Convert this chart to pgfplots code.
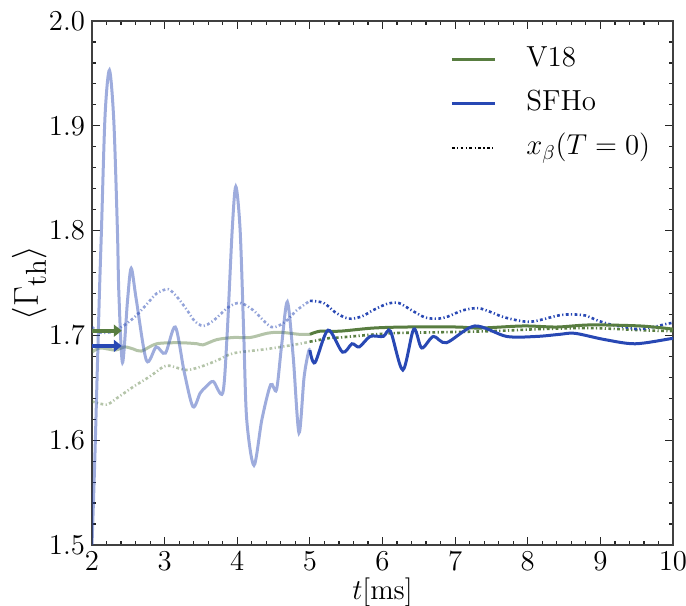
\documentclass[border=0pt]{standalone}
\usepackage{pgfplots}
\pgfplotsset{compat=1.18}
\usetikzlibrary{arrows.meta,calc}
\definecolor{cgreen}{RGB}{88,125,64}
\definecolor{cblue}{RGB}{40,72,180}
\tikzset{xbeta/.style={dash pattern=on 1.4pt off 1.2pt on 0.6pt off 1.2pt, line width=1.3pt}}
\begin{document}
\begin{tikzpicture}
\begin{axis}[
  scale only axis, width=290.5pt, height=262pt,
  xmin=2, xmax=10, ymin=1.5, ymax=2.0,
  xtick={2,3,...,10}, ytick={1.5,1.6,...,2.0},
  minor x tick num=4, minor y tick num=4,
  tick align=inside, major tick length=4pt, minor tick length=2pt,
  tick style={black!85, line width=0.6pt},
  axis line style={black!75, line width=0.8pt},
  yticklabel style={/pgf/number format/.cd, fixed, fixed zerofill, precision=1},
  every tick label/.append style={font=\fontsize{15}{17}\selectfont},
  xlabel={$t[\mathrm{ms}]$}, ylabel={$\langle\Gamma_{\rm th}\rangle$},
  xlabel style={font=\fontsize{15.5}{18}\selectfont, at={(rel axis cs:0.5,0)}, anchor=base, yshift=-27pt},
  ylabel style={font=\fontsize{19}{22}\selectfont, at={(rel axis cs:-0.108,0.5)}, anchor=center},
  clip=true,
  legend style={draw=none, fill=none, at={(0.616,0.955)}, anchor=north west,
    inner sep=0pt, font=\fontsize{14.5}{17}\selectfont, row sep=7pt,
    nodes={inner sep=0pt, text height=11pt, text depth=4pt},
    /tikz/every odd column/.append style={column sep=15pt}},
  legend cell align=left,
  legend image code/.code={\draw[#1] (0pt,0pt) -- (21.5pt,0pt);},
]
% legend entries
\addlegendimage{cgreen, line width=1.5pt}
\addlegendentry{V18}
\addlegendimage{cblue, line width=1.5pt}
\addlegendentry{SFHo}
\addlegendimage{black, xbeta}
\addlegendentry{$x_\beta(T=0)$}

% V18 x_beta dotted (light t<5)
\addplot[cgreen, opacity=0.45, xbeta, smooth, forget plot] coordinates {
(2.00,1.637)(2.20,1.634)(2.34,1.640)(2.57,1.651)(2.80,1.661)(2.98,1.670)(3.07,1.671)
(3.30,1.667)(3.49,1.670)(3.72,1.676)(3.95,1.683)(4.41,1.687)(4.86,1.692)(5.00,1.694)};
\addplot[cgreen, xbeta, smooth, forget plot] coordinates {
(5.00,1.694)(5.32,1.698)(5.41,1.698)(6.10,1.702)(6.79,1.703)(7.48,1.704)(8.17,1.706)
(8.86,1.707)(9.55,1.705)(10.0,1.704)};

% SFHo x_beta dotted
\addplot[cblue, opacity=0.5, xbeta, smooth, forget plot] coordinates {
(2.00,1.708)(2.10,1.703)(2.25,1.703)(2.45,1.710)(2.61,1.719)(2.77,1.731)(2.89,1.740)
(3.05,1.744)(3.18,1.736)(3.32,1.723)(3.41,1.714)(3.53,1.709)(3.67,1.714)(3.88,1.727)
(4.04,1.731)(4.22,1.724)(4.47,1.708)(4.66,1.713)(4.82,1.724)(5.00,1.733)};
\addplot[cblue, xbeta, smooth, forget plot] coordinates {
(5.00,1.733)(5.19,1.731)(5.35,1.722)(5.53,1.716)(5.71,1.718)(5.87,1.724)(6.06,1.730)
(6.22,1.731)(6.40,1.724)(6.59,1.717)(6.77,1.716)(6.90,1.718)(7.11,1.724)(7.32,1.726)
(7.50,1.722)(7.69,1.717)(8.03,1.713)(8.42,1.719)(8.60,1.720)(8.79,1.719)(8.97,1.714)
(9.16,1.710)(9.34,1.708)(9.52,1.706)(9.73,1.708)(9.91,1.711)(10.0,1.712)};

% V18 solid
\addplot[cgreen, opacity=0.45, line width=1.5pt, smooth, forget plot] coordinates {
(2.00,1.684)(2.11,1.688)(2.32,1.686)(2.45,1.689)(2.57,1.687)(2.68,1.685)(2.89,1.692)
(3.21,1.693)(3.45,1.692)(3.53,1.691)(3.72,1.696)(3.95,1.698)(4.18,1.698)(4.41,1.702)
(4.59,1.703)(4.86,1.701)(5.00,1.701)};
\addplot[cgreen, line width=1.5pt, smooth, forget plot] coordinates {
(5.00,1.701)(5.14,1.704)(5.41,1.704)(5.87,1.707)(6.33,1.708)(7.02,1.708)(7.34,1.707)
(7.94,1.709)(8.40,1.708)(8.86,1.710)(9.55,1.709)(10.0,1.706)};

% SFHo solid
\addplot[cblue, opacity=0.45, line width=1.5pt, smooth, forget plot] coordinates {
(2.00,1.500)(2.04,1.585)(2.10,1.735)(2.13,1.800)(2.18,1.910)(2.24,1.953)(2.30,1.905)
(2.35,1.800)(2.37,1.740)(2.42,1.674)(2.49,1.734)(2.54,1.764)(2.61,1.734)(2.75,1.676)
(2.885,1.689)(3.01,1.683)(3.147,1.708)(3.27,1.665)(3.39,1.632)(3.49,1.645)(3.57,1.651)
(3.67,1.656)(3.80,1.645)(3.86,1.700)(3.93,1.800)(3.98,1.842)(4.04,1.800)(4.09,1.700)
(4.13,1.620)(4.23,1.576)(4.34,1.620)(4.46,1.653)(4.54,1.648)(4.61,1.690)(4.69,1.732)
(4.77,1.680)(4.85,1.607)(4.92,1.660)(4.98,1.684)(5.00,1.686)};
\addplot[cblue, line width=1.5pt, smooth, forget plot] coordinates {
(5.00,1.686)(5.07,1.674)(5.25,1.705)(5.45,1.684)(5.58,1.692)(5.68,1.689)(5.83,1.699)
(6.01,1.699)(6.11,1.704)(6.28,1.667)(6.43,1.706)(6.54,1.688)(6.70,1.699)(6.88,1.693)
(7.27,1.709)(7.71,1.699)(8.12,1.699)(8.44,1.701)(8.65,1.702)(9.06,1.696)(9.48,1.692)
(9.98,1.697)(10.0,1.697)};

% arrows
\addplot[cgreen, line width=2pt, -{Triangle[length=4pt,width=6pt]}, forget plot] coordinates {(2.0,1.7045)(2.41,1.7045)};
\addplot[cblue, line width=2pt, -{Triangle[length=4pt,width=6pt]}, forget plot] coordinates {(2.0,1.690)(2.41,1.690)};
\end{axis}
\pgfresetboundingbox
\path[use as bounding box] ($(current axis.south west)+(-46pt,-30.5pt)$) rectangle ($(current axis.north east)+(6.5pt,10.5pt)$);
\end{tikzpicture}
\end{document}
